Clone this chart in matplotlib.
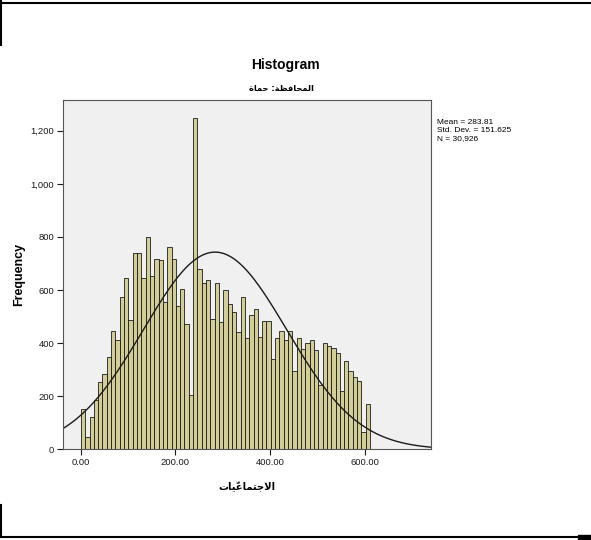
import numpy as np
import matplotlib
matplotlib.use("Agg")
import matplotlib.pyplot as plt
from matplotlib.lines import Line2D
from matplotlib.patches import Rectangle

# histogram counts (67 equal-width bins starting at 0)
counts = [151, 48, 121, 185, 254, 284, 349, 447, 410, 572,
          647, 487, 739, 741, 647, 799, 654, 716, 713, 555,
          762, 716, 539, 603, 471, 203, 1248, 678, 627, 638,
          490, 628, 481, 600, 547, 519, 443, 575, 418, 507,
          528, 422, 485, 483, 339, 418, 447, 412, 447, 296,
          421, 378, 399, 412, 374, 242, 402, 391, 383, 362,
          220, 333, 296, 274, 259, 65, 171]
bin_width = 9.13
mean_val = 283.81
std_val = 151.625
n_val = 30926
x_ticks = [0, 200, 400, 600]
x_tick_labels = ["0.00", "200.00", "400.00", "600.00"]
y_ticks = [0, 200, 400, 600, 800, 1000, 1200]
y_tick_labels = ["0", "200", "400", "600", "800", "1,000", "1,200"]

# Arabic text pre-shaped (presentation forms, visual order) since matplotlib has no bidi/shaping
# subtitle: "المحافظة: حماة"
subtitle = ("\uFE93\uFE8E\uFEE4\uFEA3" + " :" +
            "\uFE94\uFEC8\uFED3\uFE8E\uFEA4\uFEE4\uFEDF\uFE8D")
# x label: "الاجتماعيّات"
xlabel = "\uFE95\uFE8E\uFEF4\u0651\uFECB\uFE8E\uFEE4\uFE98\uFE9F\uFEFB\uFE8D"

fam = ["Liberation Sans", "DejaVu Sans"]
plt.rcParams["font.family"] = fam

W, H = 591, 540
fig = plt.figure(figsize=(W / 100, H / 100), dpi=100)
ax = fig.add_axes([62.7 / W, 1 - 449.3 / H, (430.7 - 62.7) / W, (449.3 - 100) / H])
ax.set_facecolor("#F0F0F0")

edges = np.arange(len(counts)) * bin_width
ax.bar(edges, counts, width=bin_width, align="edge", color="#D3CE97",
       edgecolor="#1a1a1a", linewidth=0.6)

xs = np.linspace(-38.5, 740, 500)
pdf = np.exp(-0.5 * ((xs - mean_val) / std_val) ** 2) / (std_val * np.sqrt(2 * np.pi))
ax.plot(xs, n_val * bin_width * pdf, color="#1a1a1a", lw=1.0)

ax.set_xlim(-38.5, 740)
ax.set_ylim(0, 1316)
ax.set_xticks(x_ticks)
ax.set_xticklabels(x_tick_labels)
ax.set_yticks(y_ticks)
ax.set_yticklabels(y_tick_labels)
ax.tick_params(length=4, width=0.8, labelsize=6.8, pad=2, colors="#1a1a1a")
for s in ax.spines.values():
    s.set_color("#555555")
    s.set_linewidth(0.8)

ax.set_ylabel("Frequency", fontsize=9, fontweight="bold", labelpad=4)
fig.text(247.4 / W, 1 - 487 / H, xlabel, ha="center", va="center", fontsize=7.2,
         fontweight="bold", family=["DejaVu Sans"])

fig.text(285.5 / W, 1 - 64.5 / H, "Histogram", ha="center", va="center",
         fontsize=10, fontweight="bold")
fig.text(281.5 / W, 1 - 88.5 / H, subtitle, ha="center", va="center",
         fontsize=6, fontweight="bold", family=["DejaVu Sans"])

stats = [f"Mean = {mean_val:.2f}", f"Std. Dev. = {std_val:.3f}", f"N = {n_val:,}"]
for i, s in enumerate(stats):
    fig.text(437 / W, 1 - (123 + 8 * i) / H, s, ha="left", va="center", fontsize=6)

# frame bits of the screenshot border
k = "black"
fig.add_artist(Line2D([0, 1], [1 - 3 / H, 1 - 3 / H], color=k, lw=1.5))
fig.add_artist(Line2D([1 / W, 1 / W], [1, 1 - 45 / H], color=k, lw=1.5))
fig.add_artist(Line2D([1 / W, 1 / W], [1 - 505 / H, 1 - 537 / H], color=k, lw=1.5))
fig.add_artist(Line2D([0, 578 / W], [1 - 536.5 / H, 1 - 536.5 / H], color=k, lw=1.5))
fig.add_artist(Rectangle((578 / W, 0), 13 / W, 5 / H, color=k, transform=fig.transFigure))

fig.savefig("out.png", dpi=100)
